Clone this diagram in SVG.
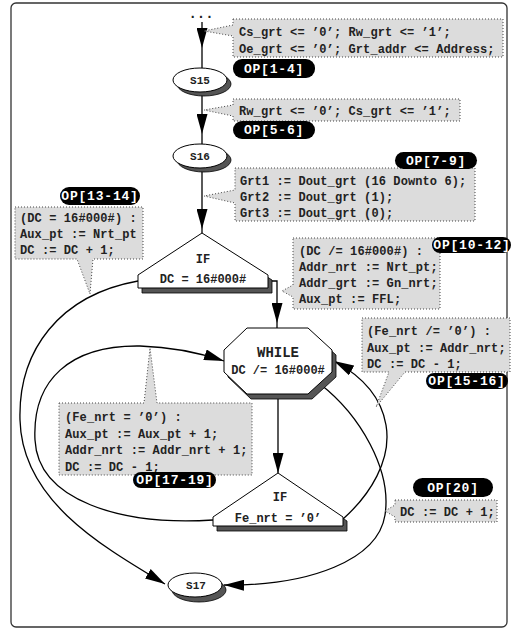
<svg xmlns="http://www.w3.org/2000/svg" width="512" height="629" viewBox="0 0 512 629">
<defs>
<marker id="ah" markerUnits="userSpaceOnUse" viewBox="0 0 20 11" refX="20" refY="5.5" markerWidth="20" markerHeight="11" orient="auto">
<path d="M0,0 L20,5.5 L0,11 Z" fill="#000"/>
</marker>
<style>
.frame{fill:#fff;stroke:#333;stroke-width:1.3}
.edge{fill:none;stroke:#000;stroke-width:1.3}
.shape{fill:#fff;stroke:#000;stroke-width:1}
.shadow{fill:#555;stroke:#000;stroke-width:0.8}
.call{fill:#dcdcdc;stroke:#444;stroke-width:1;stroke-dasharray:1 2}
.pill{fill:#000}
.ct{font-family:"Liberation Mono","DejaVu Sans Mono",monospace;font-weight:bold;font-size:12px;letter-spacing:0.1px;fill:#222}
.pt{font-family:"Liberation Mono","DejaVu Sans Mono",monospace;font-weight:bold;font-size:13px;letter-spacing:0.8px;fill:#fff;text-anchor:middle}
.nt{font-family:"Liberation Mono","DejaVu Sans Mono",monospace;font-weight:bold;font-size:12px;fill:#222;text-anchor:middle}
.st{font-family:"Liberation Mono","DejaVu Sans Mono",monospace;font-weight:bold;font-size:11px;fill:#222;text-anchor:middle}
</style>
</defs>
<rect class="frame" x="11" y="3" width="496" height="624" rx="5"/>

<g id="connectors">
<text class="nt" x="201" y="18" style="font-size:14px">...</text>
<path class="edge" d="M202,22 V48" marker-end="url(#ah)"/>
<path class="edge" d="M202,48 V68"/>
<path class="edge" d="M202,92 V134" marker-end="url(#ah)"/>
<path class="edge" d="M202,134 V144"/>
<path class="edge" d="M202,168 V229" marker-end="url(#ah)"/>
<path class="edge" d="M202,229 V233"/>
<path class="edge" d="M266,281 H277 V323" marker-end="url(#ah)"/>
<path class="edge" d="M277,323 V328"/>
<path class="edge" d="M278,399 V473" marker-end="url(#ah)"/>
<path class="edge" d="M138,281 C60,295 18,350 20,420 C22,500 100,545 165,584" marker-end="url(#ah)"/>
<path class="edge" d="M213,520 C120,526 38,500 35,440 C32,380 70,345 140,346 C175,347 200,353 224,361" marker-end="url(#ah)"/>
<path class="edge" d="M343,519 C370,495 392,460 386,425 C381,395 360,375 334,361" marker-end="url(#ah)"/>
<path class="edge" d="M320,384 C360,415 392,470 385,515 C378,560 310,586 224,585" marker-end="url(#ah)"/>
</g>

<g id="S15">
<ellipse class="shadow" cx="204" cy="84" rx="27" ry="12"/>
<ellipse class="shape" cx="200" cy="80" rx="27" ry="12"/>
<text class="st" x="200" y="84">S15</text>
</g>
<g id="S16">
<ellipse class="shadow" cx="204" cy="160" rx="27" ry="12"/>
<ellipse class="shape" cx="200" cy="156" rx="27" ry="12"/>
<text class="st" x="200" y="160">S16</text>
</g>
<g id="IF1">
<polygon class="shadow" points="206,238 272,280 272,293 142,293 142,280"/>
<polygon class="shape" points="202,233 268,275 268,288 138,288 138,275"/>
<text class="nt" x="203" y="263">IF</text>
<text class="nt" x="203" y="283">DC = 16#000#</text>
</g>
<g id="WHILE">
<polygon class="shadow" points="251,333 312,333 336,355 336,377 312,399 251,399 228,377 228,355"/>
<polygon class="shape" points="247,328 308,328 332,350 332,372 308,394 247,394 224,372 224,350"/>
<text class="nt" x="278" y="357" style="font-size:14px">WHILE</text>
<text class="nt" x="278" y="374">DC /= 16#000#</text>
</g>
<g id="IF2">
<polygon class="shadow" points="282,478 347,521 347,531 217,531 217,521"/>
<polygon class="shape" points="278,473 343,517 343,526 213,526 213,517"/>
<text class="nt" x="280" y="501">IF</text>
<text class="nt" x="278" y="522">Fe_nrt = ’0’</text>
</g>
<g id="S17">
<ellipse class="shadow" cx="199" cy="590" rx="27" ry="12"/>
<ellipse class="shape" cx="195" cy="585" rx="27" ry="12"/>
<text class="st" x="196" y="589">S17</text>
</g>

<g id="op1-4">
<path class="call" d="M233,19 H503 V57 H233 V36 L204,31 L233,25 Z"/>
<text class="ct" x="239" y="36">Cs_grt &lt;= ’0’; Rw_grt &lt;= ’1’;</text>
<text class="ct" x="239" y="53">Oe_grt &lt;= ’0’; Grt_addr &lt;= Address;</text>
<rect class="pill" x="233" y="59" width="82" height="19" rx="9"/>
<text class="pt" x="274" y="73">OP[1-4]</text>
</g>
<g id="op5-6">
<path class="call" d="M233,99 H460 V121 H233 V116 L204,110 L233,105 Z"/>
<text class="ct" x="239" y="115">Rw_grt &lt;= ’0’; Cs_grt &lt;= ’1’;</text>
<rect class="pill" x="233" y="121" width="82" height="18" rx="9"/>
<text class="pt" x="274" y="134">OP[5-6]</text>
</g>
<g id="op7-9">
<path class="call" d="M235,168 H475 V221 H235 V203 L204,196 L235,190 Z"/>
<text class="ct" x="240" y="185">Grt1 := Dout_grt (16 Downto 6);</text>
<text class="ct" x="240" y="201">Grt2 := Dout_grt (1);</text>
<text class="ct" x="240" y="217">Grt3 := Dout_grt (0);</text>
<rect class="pill" x="395" y="152" width="82" height="17" rx="8.5"/>
<text class="pt" x="436" y="165">OP[7-9]</text>
</g>
<g id="op13-14">
<path class="call" d="M15,207 H143 V259 H93 L90,294 L77,259 H15 Z"/>
<text class="ct" x="20" y="222">(DC = 16#000#) :</text>
<text class="ct" x="20" y="238">Aux_pt := Nrt_pt</text>
<text class="ct" x="20" y="254">DC := DC + 1;</text>
<rect class="pill" x="60" y="187" width="80" height="18" rx="9"/>
<text class="pt" x="100" y="200">OP[13-14]</text>
</g>
<g id="op10-12">
<path class="call" d="M293,238 H440 V309 H293 V297 L282,291 L293,285 Z"/>
<text class="ct" x="299" y="255">(DC /= 16#000#) :</text>
<text class="ct" x="299" y="271">Addr_nrt := Nrt_pt;</text>
<text class="ct" x="299" y="287">Addr_grt := Gn_nrt;</text>
<text class="ct" x="299" y="303">Aux_pt := FFL;</text>
<rect class="pill" x="432" y="237" width="79" height="16" rx="8"/>
<text class="pt" x="472" y="249">OP[10-12]</text>
</g>
<g id="op15-16">
<path class="call" d="M362,318 H510 V372 H405 L376,407 L389,372 H362 Z"/>
<text class="ct" x="367" y="335">(Fe_nrt /= ’0’) :</text>
<text class="ct" x="367" y="352">Aux_pt := Addr_nrt;</text>
<text class="ct" x="367" y="368">DC := DC - 1;</text>
<rect class="pill" x="426" y="373" width="82" height="16" rx="8"/>
<text class="pt" x="467" y="385">OP[15-16]</text>
</g>
<g id="op17-19">
<path class="call" d="M59,403 H144 L150,348 L157,403 H252 V475 H59 Z"/>
<text class="ct" x="65" y="421">(Fe_nrt = ’0’) :</text>
<text class="ct" x="65" y="438">Aux_pt := Aux_pt + 1;</text>
<text class="ct" x="65" y="454">Addr_nrt := Addr_nrt + 1;</text>
<text class="ct" x="65" y="471">DC := DC - 1;</text>
<rect class="pill" x="133" y="472" width="83" height="16" rx="8"/>
<text class="pt" x="175" y="484">OP[17-19]</text>
</g>
<g id="op20">
<path class="call" d="M395,500 H497 V522 H395 V517 L385,511 L395,505 Z"/>
<text class="ct" x="400" y="516">DC := DC + 1;</text>
<rect class="pill" x="413" y="478" width="80" height="19" rx="9.5"/>
<text class="pt" x="453" y="492">OP[20]</text>
</g>
</svg>
